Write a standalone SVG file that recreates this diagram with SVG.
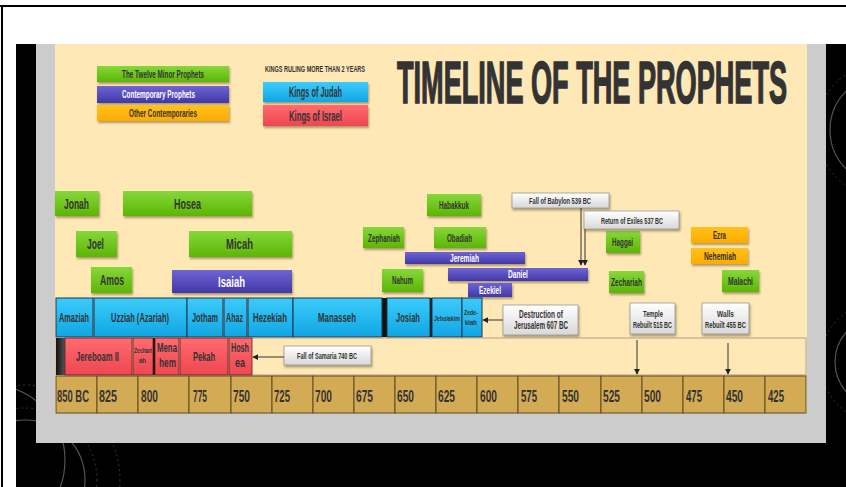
<svg xmlns="http://www.w3.org/2000/svg" width="846" height="487" viewBox="0 0 846 487">
<defs>
<style>
.t{font-family:"Liberation Sans",Arial,sans-serif;font-weight:bold;fill:#333;}
.w{fill:#fff;}
.gr{fill:url(#gGreen);filter:url(#sh);}
.pu{fill:url(#gPurple);filter:url(#sh);}
.or{fill:url(#gOrange);filter:url(#sh);}
.bl{fill:url(#gBlue);stroke:#1b3550;stroke-width:1;}
.rd{fill:url(#gRed);stroke:#5a2020;stroke-width:0.8;}
.co{fill:url(#gWhite);stroke:#9a9a9a;stroke-width:0.8;filter:url(#sh);}
.tl{fill:#D4AB55;stroke:#5e4c22;stroke-width:1;}
.cn{stroke:#333;stroke-width:1;fill:none;}
.deco{fill:none;stroke:#555;stroke-width:1.2;}
.decod{fill:none;stroke:#444;stroke-width:0.8;stroke-dasharray:2 3;}
</style>
<linearGradient id="gGreen" x1="0" y1="0" x2="0" y2="1"><stop offset="0" stop-color="#86D83A"/><stop offset="1" stop-color="#5CB505"/></linearGradient>
<linearGradient id="gPurple" x1="0" y1="0" x2="0" y2="1"><stop offset="0" stop-color="#6E64D4"/><stop offset="1" stop-color="#4337A6"/></linearGradient>
<linearGradient id="gOrange" x1="0" y1="0" x2="0" y2="1"><stop offset="0" stop-color="#FFC21C"/><stop offset="1" stop-color="#FFAB00"/></linearGradient>
<linearGradient id="gBlue" x1="0" y1="0" x2="0" y2="1"><stop offset="0" stop-color="#3CCBFA"/><stop offset="1" stop-color="#10A6E4"/></linearGradient>
<linearGradient id="gRed" x1="0" y1="0" x2="0" y2="1"><stop offset="0" stop-color="#FF6B70"/><stop offset="1" stop-color="#EE4650"/></linearGradient>
<linearGradient id="gWhite" x1="0" y1="0" x2="0" y2="1"><stop offset="0" stop-color="#FFFFFF"/><stop offset="1" stop-color="#D8D8D8"/></linearGradient>
<linearGradient id="gDark" x1="0" y1="0" x2="1" y2="0"><stop offset="0" stop-color="#111"/><stop offset="1" stop-color="#555"/></linearGradient>
<filter id="sh" x="-10%" y="-20%" width="120%" height="160%"><feDropShadow dx="1" dy="2" stdDeviation="0.8" flood-color="#6b5a30" flood-opacity="0.55"/></filter>
<marker id="ah" viewBox="0 0 8 8" refX="7" refY="4" markerWidth="6" markerHeight="6" orient="auto"><path d="M0,0 L8,4 L0,8 z" fill="#222"/></marker>
<clipPath id="blk"><rect x="16" y="44" width="830" height="443"/></clipPath>
</defs>

<g id="page">
<rect x="0" y="0" width="846" height="487" fill="#fff"/>
<rect x="0" y="5" width="846" height="2" fill="#000"/>
<rect x="1" y="5" width="2" height="482" fill="#000"/>
<rect x="16" y="44" width="830" height="443" fill="#000"/>
<g clip-path="url(#blk)">
<circle class="deco" cx="25" cy="480" r="60"/>
<circle class="decod" cx="25" cy="480" r="72"/>
<circle class="decod" cx="25" cy="480" r="95"/>
<circle class="deco" cx="-10" cy="460" r="75"/>
<circle class="deco" cx="885" cy="130" r="55"/>
<circle class="decod" cx="885" cy="130" r="68"/>
<circle class="deco" cx="880" cy="362" r="45"/>
<circle class="decod" cx="880" cy="362" r="60"/>
</g>
<rect x="36" y="44" width="790" height="399" fill="#CCCCCC"/>
<rect x="55" y="44" width="752" height="369" fill="#FEE8B6"/>
</g>

<g id="title"><text class="t" transform="translate(397 103) scale(.45 1)" font-size="60" textLength="866.7" lengthAdjust="spacingAndGlyphs" stroke="#333" stroke-width="1.6">TIMELINE OF THE PROPHETS</text></g>

<g id="legend-minor"><rect class="gr" x="97" y="66" width="132" height="16"/><text class="t" transform="translate(122 77.5) scale(.6 1)" font-size="10" textLength="136.7" lengthAdjust="spacingAndGlyphs">The Twelve Minor Prophets</text></g>
<g id="legend-contemporary"><rect class="pu" x="97" y="86" width="132" height="17"/><text class="t w" transform="translate(122 98) scale(.6 1)" font-size="10" textLength="121.7" lengthAdjust="spacingAndGlyphs">Contemporary Prophets</text></g>
<g id="legend-other"><rect class="or" x="97" y="105" width="132" height="16"/><text class="t" transform="translate(129 116.5) scale(.6 1)" font-size="10" textLength="113.3" lengthAdjust="spacingAndGlyphs">Other Contemporaries</text></g>
<g id="legend-kings-heading"><text class="t" transform="translate(265 72) scale(.6 1)" font-size="9" textLength="166.7" lengthAdjust="spacingAndGlyphs">KINGS RULING MORE THAN 2 YEARS</text></g>
<g id="legend-judah"><rect x="263" y="82" width="105" height="20" fill="url(#gBlue)" filter="url(#sh)"/><text class="t" transform="translate(289 96.5) scale(.6 1)" font-size="14" textLength="88.3" lengthAdjust="spacingAndGlyphs">Kings of Judah</text></g>
<g id="legend-israel"><rect x="263" y="105" width="105" height="21" fill="url(#gRed)" filter="url(#sh)"/><text class="t" transform="translate(289 120.5) scale(.6 1)" font-size="14" textLength="88.3" lengthAdjust="spacingAndGlyphs">Kings of Israel</text></g>

<g id="jonah"><rect class="gr" x="55" y="191" width="44" height="25"/><text class="t" transform="translate(64 209) scale(.6 1)" font-size="15" textLength="41.7" lengthAdjust="spacingAndGlyphs">Jonah</text></g>
<g id="hosea"><rect class="gr" x="123" y="191" width="129" height="25"/><text class="t" transform="translate(174 209) scale(.6 1)" font-size="15" textLength="45" lengthAdjust="spacingAndGlyphs">Hosea</text></g>
<g id="joel"><rect class="gr" x="76" y="231" width="41" height="26"/><text class="t" transform="translate(87 249) scale(.6 1)" font-size="15" textLength="28.3" lengthAdjust="spacingAndGlyphs">Joel</text></g>
<g id="micah"><rect class="gr" x="189" y="231" width="103" height="26"/><text class="t" transform="translate(226 249) scale(.6 1)" font-size="15" textLength="45" lengthAdjust="spacingAndGlyphs">Micah</text></g>
<g id="amos"><rect class="gr" x="91" y="267" width="41" height="26"/><text class="t" transform="translate(100 285) scale(.6 1)" font-size="15" textLength="40" lengthAdjust="spacingAndGlyphs">Amos</text></g>
<g id="isaiah"><rect class="pu" x="172" y="270" width="120" height="23"/><text class="t w" transform="translate(218 286.5) scale(.6 1)" font-size="15" textLength="45" lengthAdjust="spacingAndGlyphs">Isaiah</text></g>
<g id="habakkuk"><rect class="gr" x="427" y="194" width="54" height="22"/><text class="t" transform="translate(439 208.5) scale(.6 1)" font-size="11" textLength="50" lengthAdjust="spacingAndGlyphs">Habakkuk</text></g>
<g id="zephaniah"><rect class="gr" x="363" y="227" width="41" height="21"/><text class="t" transform="translate(368 241.5) scale(.6 1)" font-size="11" textLength="53.3" lengthAdjust="spacingAndGlyphs">Zephaniah</text></g>
<g id="obadiah"><rect class="gr" x="434" y="227" width="52" height="21"/><text class="t" transform="translate(447 241.5) scale(.6 1)" font-size="11" textLength="41.7" lengthAdjust="spacingAndGlyphs">Obadiah</text></g>
<g id="jeremiah"><rect class="pu" x="405" y="252" width="120" height="12"/><text class="t w" transform="translate(450 261.5) scale(.6 1)" font-size="10" textLength="48.3" lengthAdjust="spacingAndGlyphs">Jeremiah</text></g>
<g id="nahum"><rect class="gr" x="382" y="269" width="41" height="23"/><text class="t" transform="translate(392 284) scale(.6 1)" font-size="11" textLength="35" lengthAdjust="spacingAndGlyphs">Nahum</text></g>
<g id="daniel"><rect class="pu" x="448" y="268" width="140" height="13"/><text class="t w" transform="translate(508 278) scale(.6 1)" font-size="10" textLength="33.3" lengthAdjust="spacingAndGlyphs">Daniel</text></g>
<g id="ezekiel"><rect class="pu" x="468" y="283" width="44" height="14"/><text class="t w" transform="translate(479 293.5) scale(.6 1)" font-size="10" textLength="36.7" lengthAdjust="spacingAndGlyphs">Ezekiel</text></g>
<g id="haggai"><rect class="gr" x="606" y="231" width="34" height="22"/><text class="t" transform="translate(612 245.5) scale(.6 1)" font-size="11" textLength="35" lengthAdjust="spacingAndGlyphs">Haggai</text></g>
<g id="zechariah"><rect class="gr" x="609" y="271" width="35" height="22"/><text class="t" transform="translate(611 285.5) scale(.6 1)" font-size="11" textLength="51.7" lengthAdjust="spacingAndGlyphs">Zechariah</text></g>
<g id="malachi"><rect class="gr" x="722" y="270" width="37" height="22"/><text class="t" transform="translate(728 284.5) scale(.6 1)" font-size="11" textLength="41.7" lengthAdjust="spacingAndGlyphs">Malachi</text></g>
<g id="ezra"><rect class="or" x="691" y="227" width="57" height="16"/><text class="t" transform="translate(713 238.5) scale(.6 1)" font-size="10" textLength="21.7" lengthAdjust="spacingAndGlyphs">Ezra</text></g>
<g id="nehemiah"><rect class="or" x="691" y="248" width="57" height="16"/><text class="t" transform="translate(704 260) scale(.6 1)" font-size="10" textLength="53.3" lengthAdjust="spacingAndGlyphs">Nehemiah</text></g>

<g id="fall-babylon"><rect class="co" x="512" y="193" width="97" height="15"/><text class="t" transform="translate(529 204) scale(.6 1)" font-size="9" textLength="103.3" lengthAdjust="spacingAndGlyphs">Fall of Babylon 539 BC</text></g>
<g id="return-exiles"><rect class="co" x="584" y="211" width="95" height="18"/><text class="t" transform="translate(601 223.5) scale(.6 1)" font-size="9" textLength="103.3" lengthAdjust="spacingAndGlyphs">Return of Exiles 537 BC</text></g>

<g id="kings-judah">
<rect x="382" y="298" width="5" height="39" fill="#111"/>
<rect x="430" y="298" width="2" height="39" fill="#111"/>
<g id="amaziah"><rect class="bl" x="56" y="298" width="37" height="39"/><text class="t" transform="translate(59 322) scale(.6 1)" font-size="12" textLength="50" lengthAdjust="spacingAndGlyphs">Amaziah</text></g>
<g id="uzziah"><rect class="bl" x="94" y="298" width="93" height="39"/><text class="t" transform="translate(111 322) scale(.6 1)" font-size="12" textLength="96.7" lengthAdjust="spacingAndGlyphs">Uzziah (Azariah)</text></g>
<g id="jotham"><rect class="bl" x="187" y="298" width="36" height="39"/><text class="t" transform="translate(192 322) scale(.6 1)" font-size="12" textLength="43.3" lengthAdjust="spacingAndGlyphs">Jotham</text></g>
<g id="ahaz"><rect class="bl" x="224" y="298" width="23" height="39"/><text class="t" transform="translate(226 322) scale(.6 1)" font-size="12" textLength="28.3" lengthAdjust="spacingAndGlyphs">Ahaz</text></g>
<g id="hezekiah"><rect class="bl" x="248" y="298" width="45" height="39"/><text class="t" transform="translate(253 322) scale(.6 1)" font-size="12" textLength="56.7" lengthAdjust="spacingAndGlyphs">Hezekiah</text></g>
<g id="manasseh"><rect class="bl" x="293" y="298" width="89" height="39"/><text class="t" transform="translate(318 322) scale(.6 1)" font-size="12" textLength="63.3" lengthAdjust="spacingAndGlyphs">Manasseh</text></g>
<g id="josiah"><rect class="bl" x="387" y="298" width="43" height="39"/><text class="t" transform="translate(396 322) scale(.6 1)" font-size="12" textLength="40" lengthAdjust="spacingAndGlyphs">Josiah</text></g>
<g id="jehoiakim"><rect class="bl" x="432" y="298" width="30" height="39"/><text class="t" transform="translate(434 321) scale(.6 1)" font-size="7" textLength="43.3" lengthAdjust="spacingAndGlyphs">Jehoiakim</text></g>
<g id="zedekiah"><rect class="bl" x="462" y="298" width="20" height="39"/><text class="t" transform="translate(464 315) scale(.6 1)" font-size="7" textLength="23.3" lengthAdjust="spacingAndGlyphs">Zede-</text><text class="t" transform="translate(465 325) scale(.6 1)" font-size="7" textLength="20" lengthAdjust="spacingAndGlyphs">kiah</text></g>
</g>

<g id="destruction-jerusalem"><rect class="co" x="503" y="305" width="75" height="30"/><text class="t" transform="translate(519 317.5) scale(.6 1)" font-size="10" textLength="73.3" lengthAdjust="spacingAndGlyphs">Destruction of</text><text class="t" transform="translate(514 329) scale(.6 1)" font-size="10" textLength="90" lengthAdjust="spacingAndGlyphs">Jerusalem 607 BC</text></g>
<g id="temple-rebuilt"><rect class="co" x="630" y="303" width="45" height="31"/><text class="t" transform="translate(643 317) scale(.6 1)" font-size="9" textLength="33.3" lengthAdjust="spacingAndGlyphs">Temple</text><text class="t" transform="translate(633 328) scale(.6 1)" font-size="9" textLength="65" lengthAdjust="spacingAndGlyphs">Rebuilt 515 BC</text></g>
<g id="walls-rebuilt"><rect class="co" x="702" y="303" width="47" height="31"/><text class="t" transform="translate(717 317) scale(.6 1)" font-size="9" textLength="28.3" lengthAdjust="spacingAndGlyphs">Walls</text><text class="t" transform="translate(705 328) scale(.6 1)" font-size="9" textLength="68.3" lengthAdjust="spacingAndGlyphs">Rebuilt 455 BC</text></g>

<g id="kings-israel">
<rect x="56" y="338" width="750" height="37" fill="#FEE8B6" stroke="#B89A88" stroke-width="1"/>
<rect x="56" y="338" width="9" height="37" fill="url(#gDark)"/>
<rect x="153" y="338" width="2" height="37" fill="#111"/>
<g id="jereboam"><rect class="rd" x="65" y="338" width="67" height="37"/><text class="t" transform="translate(76 360.5) scale(.6 1)" font-size="13" textLength="71.7" lengthAdjust="spacingAndGlyphs">Jereboam II</text></g>
<g id="zechariah-king"><rect class="rd" x="133" y="338" width="20" height="37"/><text class="t" transform="translate(134 353) scale(.6 1)" font-size="7" textLength="30" lengthAdjust="spacingAndGlyphs">Zechari</text><text class="t" transform="translate(139 363) scale(.6 1)" font-size="7" textLength="11.7" lengthAdjust="spacingAndGlyphs">ah</text></g>
<g id="menahem"><rect class="rd" x="155" y="338" width="24" height="37"/><text class="t" transform="translate(157 352) scale(.6 1)" font-size="12" textLength="33.3" lengthAdjust="spacingAndGlyphs">Mena</text><text class="t" transform="translate(159 367) scale(.6 1)" font-size="12" textLength="28.3" lengthAdjust="spacingAndGlyphs">hem</text></g>
<g id="pekah"><rect class="rd" x="180" y="338" width="48" height="37"/><text class="t" transform="translate(193 360.5) scale(.6 1)" font-size="13" textLength="36.7" lengthAdjust="spacingAndGlyphs">Pekah</text></g>
<g id="hoshea"><rect class="rd" x="229" y="338" width="23" height="37"/><text class="t" transform="translate(231 352) scale(.6 1)" font-size="12" textLength="30" lengthAdjust="spacingAndGlyphs">Hosh</text><text class="t" transform="translate(235 367) scale(.6 1)" font-size="12" textLength="16.7" lengthAdjust="spacingAndGlyphs">ea</text></g>
</g>

<g id="fall-samaria"><rect class="co" x="284" y="346" width="87" height="19"/><text class="t" transform="translate(297 358.5) scale(.6 1)" font-size="9" textLength="100" lengthAdjust="spacingAndGlyphs">Fall of Samaria 740 BC</text></g>

<g id="timeline">
<g id="y850"><rect class="tl" x="56" y="376" width="41" height="37"/><text class="t" transform="translate(57 402) scale(.6 1)" font-size="16" textLength="53.3" lengthAdjust="spacingAndGlyphs">850 BC</text></g>
<g id="y825"><rect class="tl" x="97" y="376" width="41" height="37"/><text class="t" transform="translate(99 402) scale(.6 1)" font-size="16" textLength="30" lengthAdjust="spacingAndGlyphs">825</text></g>
<g id="y800"><rect class="tl" x="138" y="376" width="51" height="37"/><text class="t" transform="translate(141 402) scale(.6 1)" font-size="16" textLength="28.3" lengthAdjust="spacingAndGlyphs">800</text></g>
<g id="y775"><rect class="tl" x="189" y="376" width="42" height="37"/><text class="t" transform="translate(193 402) scale(.6 1)" font-size="16" textLength="23.3" lengthAdjust="spacingAndGlyphs">775</text></g>
<g id="y750"><rect class="tl" x="231" y="376" width="41" height="37"/><text class="t" transform="translate(233 402) scale(.6 1)" font-size="16" textLength="28.3" lengthAdjust="spacingAndGlyphs">750</text></g>
<g id="y725"><rect class="tl" x="272" y="376" width="41" height="37"/><text class="t" transform="translate(274 402) scale(.6 1)" font-size="16" textLength="26.7" lengthAdjust="spacingAndGlyphs">725</text></g>
<g id="y700"><rect class="tl" x="313" y="376" width="41" height="37"/><text class="t" transform="translate(315 402) scale(.6 1)" font-size="16" textLength="28.3" lengthAdjust="spacingAndGlyphs">700</text></g>
<g id="y675"><rect class="tl" x="354" y="376" width="41" height="37"/><text class="t" transform="translate(356 402) scale(.6 1)" font-size="16" textLength="28.3" lengthAdjust="spacingAndGlyphs">675</text></g>
<g id="y650"><rect class="tl" x="395" y="376" width="41" height="37"/><text class="t" transform="translate(397 402) scale(.6 1)" font-size="16" textLength="28.3" lengthAdjust="spacingAndGlyphs">650</text></g>
<g id="y625"><rect class="tl" x="436" y="376" width="41" height="37"/><text class="t" transform="translate(438 402) scale(.6 1)" font-size="16" textLength="28.3" lengthAdjust="spacingAndGlyphs">625</text></g>
<g id="y600"><rect class="tl" x="477" y="376" width="41" height="37"/><text class="t" transform="translate(480 402) scale(.6 1)" font-size="16" textLength="28.3" lengthAdjust="spacingAndGlyphs">600</text></g>
<g id="y575"><rect class="tl" x="518" y="376" width="41" height="37"/><text class="t" transform="translate(521 402) scale(.6 1)" font-size="16" textLength="26.7" lengthAdjust="spacingAndGlyphs">575</text></g>
<g id="y550"><rect class="tl" x="559" y="376" width="42" height="37"/><text class="t" transform="translate(562 402) scale(.6 1)" font-size="16" textLength="28.3" lengthAdjust="spacingAndGlyphs">550</text></g>
<g id="y525"><rect class="tl" x="601" y="376" width="41" height="37"/><text class="t" transform="translate(603 402) scale(.6 1)" font-size="16" textLength="28.3" lengthAdjust="spacingAndGlyphs">525</text></g>
<g id="y500"><rect class="tl" x="642" y="376" width="41" height="37"/><text class="t" transform="translate(644 402) scale(.6 1)" font-size="16" textLength="28.3" lengthAdjust="spacingAndGlyphs">500</text></g>
<g id="y475"><rect class="tl" x="683" y="376" width="41" height="37"/><text class="t" transform="translate(686 402) scale(.6 1)" font-size="16" textLength="26.7" lengthAdjust="spacingAndGlyphs">475</text></g>
<g id="y450"><rect class="tl" x="724" y="376" width="41" height="37"/><text class="t" transform="translate(726 402) scale(.6 1)" font-size="16" textLength="28.3" lengthAdjust="spacingAndGlyphs">450</text></g>
<g id="y425"><rect class="tl" x="765" y="376" width="41" height="37"/><text class="t" transform="translate(768 402) scale(.6 1)" font-size="16" textLength="26.7" lengthAdjust="spacingAndGlyphs">425</text></g>
</g>

<g id="connectors">
<line class="cn" x1="581" y1="208" x2="581" y2="265" marker-end="url(#ah)"/>
<line class="cn" x1="585" y1="229" x2="585" y2="265" marker-end="url(#ah)"/>
<line class="cn" x1="503" y1="320" x2="483" y2="320" marker-end="url(#ah)"/>
<line class="cn" x1="284" y1="357" x2="253" y2="357" marker-end="url(#ah)"/>
<line class="cn" x1="637" y1="340" x2="637" y2="374" marker-end="url(#ah)"/>
<line class="cn" x1="728" y1="343" x2="728" y2="374" marker-end="url(#ah)"/>
</g>
</svg>
